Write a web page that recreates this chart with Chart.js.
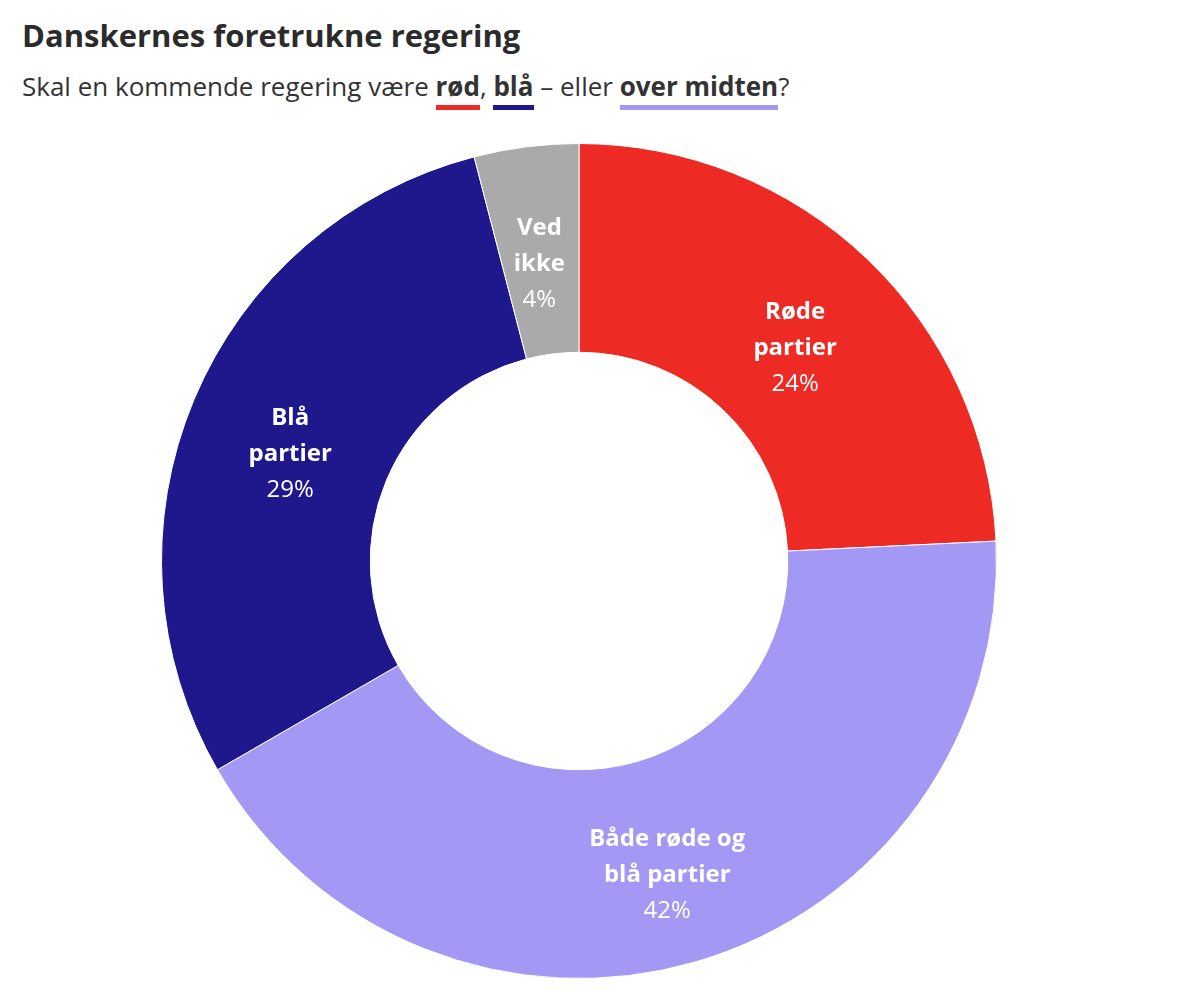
<!DOCTYPE html>
<html>
<head>
<meta charset="utf-8">
<script src="https://cdn.jsdelivr.net/npm/chart.js@4"></script>
<style>
  body { margin: 0; background: #fff; font-family: "Open Sans", "Noto Sans", sans-serif; color: #333; }
  #title { position: absolute; left: 22px; top: 14px; font-size: 31px; font-weight: bold; color: #2b2b2b; }
  #sub { position: absolute; left: 22px; top: 68px; font-size: 26px; color: #333; }
  #sub b { font-weight: bold; padding-bottom: 1px; border-bottom: 5px solid; }
  #wrap { position: absolute; left: 157px; top: 139px; width: 844px; height: 844px; }
</style>
</head>
<body>
<div id="title">Danskernes foretrukne regering</div>
<div id="sub">Skal en kommende regering være <b style="border-color:#ee2a24">rød</b>, <b style="border-color:#1e188c">blå</b> – eller <b style="border-color:#a498f5">over midten</b>?</div>
<div id="wrap"><canvas id="donut"></canvas></div>
<script>
// data, clockwise from the top
const labels = [['Røde', 'partier'], ['Både røde og', 'blå partier'], ['Blå', 'partier'], ['Ved', 'ikke']];
const values = [24, 42, 29, 4];
const colors = ['#ee2a24', '#a498f5', '#1e188c', '#aaaaaa'];

// write label + percent in the middle of each slice
const sliceLabels = {
    id: 'sliceLabels',
    afterDatasetsDraw(chart) {
        const ctx = chart.ctx;
        chart.getDatasetMeta(0).data.forEach(function (arc, i) {
            const p = arc.tooltipPosition();
            const lines = labels[i];
            const y0 = p.y - (lines.length * 36) / 2 + 18 - 4;
            ctx.save();
            ctx.fillStyle = '#fff';
            ctx.textAlign = 'center';
            ctx.textBaseline = 'middle';
            ctx.font = 'bold 24px "Open Sans", sans-serif';
            lines.forEach(function (l, k) { ctx.fillText(l, p.x, y0 + k * 36); });
            ctx.font = '24px "Open Sans", sans-serif';
            ctx.fillText(values[i] + '%', p.x, y0 + lines.length * 36);
            ctx.restore();
        });
    }
};

new Chart(document.getElementById('donut'), {
    type: 'doughnut',
    data: {
        labels: labels.map(l => l.join(' ')),
        datasets: [{ data: values, backgroundColor: colors, borderColor: '#fff', borderWidth: 1 }]
    },
    options: {
        responsive: true,
        maintainAspectRatio: true,
        animation: false,
        cutout: '50%',
        layout: { padding: 4 },
        plugins: { legend: { display: false }, tooltip: { enabled: false } }
    },
    plugins: [sliceLabels]
});
</script>
</body>
</html>
